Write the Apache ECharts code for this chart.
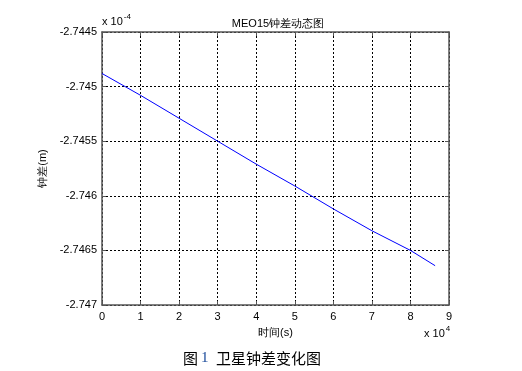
<!DOCTYPE html>
<html><head><meta charset="utf-8">
<script src="https://cdn.jsdelivr.net/npm/echarts@6/dist/echarts.min.js"></script>
<style>html,body{margin:0;padding:0;background:#fff}#c{width:522px;height:371px}</style>
</head><body><div id="c"></div>
<script>
const timeSec = [0, 10000, 20000, 30000, 40000, 50000, 60000, 70000, 80000, 86400];
const clockErr = [-2.74488, -2.74508, -2.74529, -2.7455, -2.74571, -2.74591, -2.74612, -2.74632, -2.7465, -2.74664];
const titleText = 'MEO15钟差动态图';
const xName = '时间(s)';
const yName = '钟差(m)';
const captionNum = '1';
const captionText = '卫星钟差变化图';

const FONT = '"Liberation Sans", Arial, sans-serif';
const chart = echarts.init(document.getElementById('c'));
const data = timeSec.map((t, i) => [t, clockErr[i]]);
const fmtY = v => String(parseFloat(v.toFixed(4)));
const axisCommon = {
  axisLine: {show: true, onZero: false, lineStyle: {color: '#555', width: 1.5}},
  axisTick: {show: true, inside: true, length: 4, lineStyle: {color: '#555'}}
};
chart.setOption({
  animation: false,
  backgroundColor: '#fff',
  title: {text: titleText, left: 273, top: 13, textAlign: 'center',
    textStyle: {fontFamily: FONT, fontSize: 11, fontWeight: 'normal', color: '#000'}},
  grid: {left: 102, right: 73, top: 32, bottom: 66, show: false},
  xAxis: [{
    type: 'value', min: 0, max: 90000, interval: 10000, position: 'bottom',
    ...axisCommon,
    axisLabel: {formatter: v => String(Math.round(v / 10000)), color: '#000', fontFamily: FONT, fontSize: 11, margin: 6},
    splitLine: {show: true, lineStyle: {color: '#000', type: [2, 2], width: 1}},
    name: xName, nameLocation: 'middle', nameGap: 22,
    nameTextStyle: {color: '#000', fontFamily: FONT, fontSize: 11}
  }, {
    type: 'value', min: 0, max: 90000, interval: 10000, position: 'top',
    ...axisCommon, axisLabel: {show: false}, splitLine: {show: false}
  }],
  yAxis: [{
    type: 'value', min: -2.747, max: -2.7445, interval: 0.0005, position: 'left',
    ...axisCommon,
    axisLabel: {formatter: fmtY, color: '#000', fontFamily: FONT, fontSize: 11, margin: 5},
    splitLine: {show: true, lineStyle: {color: '#000', type: [2, 2], width: 1}},
    name: yName, nameLocation: 'middle', nameGap: 50, nameRotate: 90,
    nameTextStyle: {color: '#000', fontFamily: FONT, fontSize: 11}
  }, {
    type: 'value', min: -2.747, max: -2.7445, interval: 0.0005, position: 'right',
    ...axisCommon, axisLabel: {show: false}, splitLine: {show: false}
  }],
  series: [{
    type: 'line', data: data, showSymbol: false, symbol: 'none',
    lineStyle: {color: '#0000ff', width: 1}, xAxisIndex: 0, yAxisIndex: 0
  }],
  graphic: [
    {type: 'text', left: 102, top: 13, style: {
      text: '{a|x 10}{b|-4}', rich: {
        a: {fontFamily: FONT, fontSize: 11, fill: '#000', verticalAlign: 'bottom', lineHeight: 14},
        b: {fontFamily: FONT, fontSize: 8, fill: '#000', verticalAlign: 'top', padding: [0, 0, 6, 1], lineHeight: 10}
      }}},
    {type: 'text', left: 424, top: 325, style: {
      text: '{a|x 10}{b|4}', rich: {
        a: {fontFamily: FONT, fontSize: 11, fill: '#000', verticalAlign: 'bottom', lineHeight: 14},
        b: {fontFamily: FONT, fontSize: 8, fill: '#000', verticalAlign: 'top', padding: [0, 0, 6, 1], lineHeight: 10}
      }}},
    {type: 'text', left: 183, top: 351, style: {
      text: '图', font: '15px "Noto Sans CJK SC"', fill: '#000'}},
    {type: 'text', left: 201, top: 351, style: {
      text: captionNum, font: '15px "Liberation Serif", serif', fill: '#1a4a9a'}},
    {type: 'text', left: 216, top: 351, style: {
      text: captionText, font: '15px "Noto Sans CJK SC"', fill: '#000'}}
  ]
});
</script></body></html>
